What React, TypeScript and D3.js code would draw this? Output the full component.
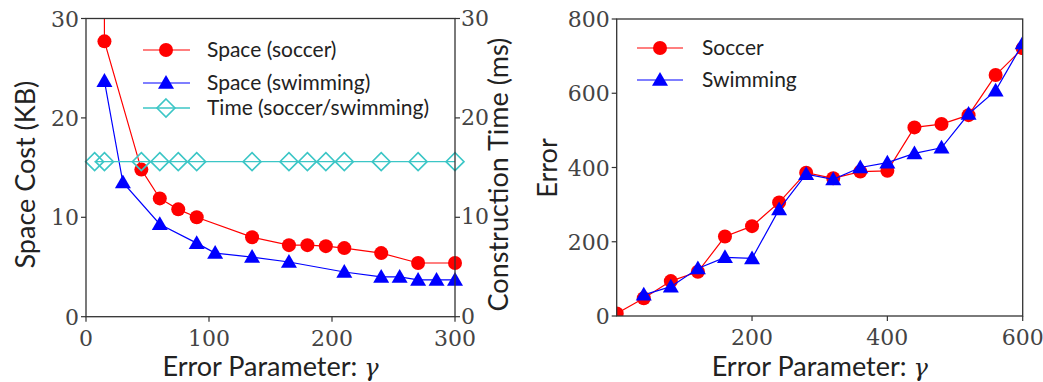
import React from "react";
import * as d3 from "d3";

// Left panel: space cost and construction time vs. error parameter
const spaceX = [14, 15, 45, 60, 75, 90, 135, 165, 180, 195, 210, 240, 270, 300];
const spaceSoccer = [100, 27.7, 14.8, 11.9, 10.8, 10.0, 8.0, 7.2, 7.2, 7.1, 6.9, 6.4, 5.4, 5.4];
const swimX = [15, 30, 60, 90, 105, 135, 165, 210, 240, 255, 270, 285, 300];
const spaceSwimming = [23.7, 13.5, 9.3, 7.4, 6.4, 6.0, 5.5, 4.5, 4.0, 4.0, 3.7, 3.7, 3.7];
const timeX = [7, 15, 45, 60, 75, 90, 135, 165, 180, 195, 210, 240, 270, 300];
const timeMs = [15.6, 15.6, 15.6, 15.6, 15.6, 15.6, 15.6, 15.6, 15.6, 15.6, 15.6, 15.6, 15.6, 15.6];
const leftXTicks = [0, 100, 200, 300];
const leftYTicks = [0, 10, 20, 30];

// Right panel: error vs. error parameter
const errX = [0, 40, 80, 120, 160, 200, 240, 280, 320, 360, 400, 440, 480, 520, 560, 600];
const errSoccer = [7, 48, 94, 119, 214, 242, 306, 386, 371, 389, 391, 508, 517, 541, 649, 721];
const errSwimX = [40, 80, 120, 160, 200, 240, 280, 320, 360, 400, 440, 480, 520, 560, 600];
const errSwimming = [57, 79, 128, 158, 155, 287, 382, 368, 400, 413, 438, 453, 544, 607, 734];
const rightXTicks = [200, 400, 600];
const rightYTicks = [0, 200, 400, 600, 800];

const RED = "#ff0000";
const BLUE = "#0000ff";
const TEAL = "#3cc6c6";
const SPINE = "#333";
const TICK_FONT = "DejaVu Serif, serif";
const TICK_SIZE = 22;
const LABEL_FONT = "Lato, DejaVu Sans, sans-serif";
const LABEL_SIZE = 27;
const LEGEND_SIZE = 21;

type Pt = [number, number];
const zip = (xs: number[], ys: number[]): Pt[] => xs.map((x, i) => [x, ys[i]]);

const Circle = ({ x, y, c }: { x: number; y: number; c: string }) => (
  <circle cx={x} cy={y} r={7} fill={c} />
);
const Tri = ({ x, y, c }: { x: number; y: number; c: string }) => {
  const s = 8;
  return (
    <path
      d={`M${x},${y - s}L${x + s},${y + s * 0.72}L${x - s},${y + s * 0.72}Z`}
      fill={c}
    />
  );
};
const Diamond = ({ x, y, c }: { x: number; y: number; c: string }) => {
  const s = 9;
  return (
    <path
      d={`M${x},${y - s}L${x + s},${y}L${x},${y + s}L${x - s},${y}Z`}
      fill="none"
      stroke={c}
      strokeWidth={1.6}
    />
  );
};

const XLabel = ({ cx }: { cx: number }) => (
  <text x={cx} y={376} textAnchor="middle" fontFamily={LABEL_FONT} fontSize={LABEL_SIZE} fill="#222">
    Error Parameter: <tspan fontFamily={TICK_FONT} fontStyle="italic" fontSize={24}>γ</tspan>
  </text>
);

function LeftPanel() {
  const x0 = 86, x1 = 455, y0 = 18.5, y1 = 316.7;
  const x = d3.scaleLinear().domain([0, 300]).range([x0, x1]);
  const y = d3.scaleLinear().domain([0, 30]).range([y1, y0]);
  const yR = d3.scaleLinear().domain([0, 30]).range([y1, y0]);
  const line = d3.line<Pt>().x((d) => x(d[0])).y((d) => y(d[1]));
  const lineR = d3.line<Pt>().x((d) => x(d[0])).y((d) => yR(d[1]));
  const soccer = zip(spaceX, spaceSoccer);
  const swim = zip(swimX, spaceSwimming);
  const time = zip(timeX, timeMs);
  return (
    <g>
      <defs>
        <clipPath id="clipL">
          <rect x={x0 - 15} y={y0} width={x1 - x0 + 30} height={y1 - y0 + 15} />
        </clipPath>
      </defs>
      <g clipPath="url(#clipL)">
        <path d={line(soccer) ?? ""} fill="none" stroke={RED} strokeWidth={1.2} />
        {soccer.filter((d) => d[1] <= 30).map((d, i) => (
          <Circle key={i} x={x(d[0])} y={y(d[1])} c={RED} />
        ))}
        <path d={line(swim) ?? ""} fill="none" stroke={BLUE} strokeWidth={1.2} />
        {swim.map((d, i) => (
          <Tri key={i} x={x(d[0])} y={y(d[1])} c={BLUE} />
        ))}
        <path d={lineR(time) ?? ""} fill="none" stroke={TEAL} strokeWidth={1.4} />
        {time.map((d, i) => (
          <Diamond key={i} x={x(d[0])} y={yR(d[1])} c={TEAL} />
        ))}
      </g>
      <rect x={x0} y={y0} width={x1 - x0} height={y1 - y0} fill="none" stroke={SPINE} strokeWidth={1.3} />
      {leftXTicks.map((t) => (
        <g key={t}>
          <line x1={x(t)} x2={x(t)} y1={y1} y2={y1 + 5} stroke={SPINE} strokeWidth={1.2} />
          <text x={x(t)} y={y1 + 29} textAnchor="middle" fontFamily={TICK_FONT} fontSize={TICK_SIZE} fill="#444">
            {t}
          </text>
        </g>
      ))}
      {leftYTicks.map((t) => (
        <g key={t}>
          <line x1={x0 - 5} x2={x0} y1={y(t)} y2={y(t)} stroke={SPINE} strokeWidth={1.2} />
          <text x={x0 - 7} y={y(t) + 8} textAnchor="end" fontFamily={TICK_FONT} fontSize={TICK_SIZE} fill="#444">
            {t}
          </text>
          <line x1={x1} x2={x1 + 5} y1={yR(t)} y2={yR(t)} stroke={SPINE} strokeWidth={1.2} />
          <text x={x1 + 6} y={yR(t) + 7} textAnchor="start" fontFamily={TICK_FONT} fontSize={TICK_SIZE} fill="#444">
            {t}
          </text>
        </g>
      ))}
      <XLabel cx={(x0 + x1) / 2} />
      <text
        transform={`translate(35,${(y0 + y1) / 2 + 7}) rotate(-90)`}
        textAnchor="middle"
        fontFamily={LABEL_FONT}
        fontSize={LABEL_SIZE}
        fill="#222"
      >
        Space Cost (KB)
      </text>
      <text
        transform={`translate(508,${(y0 + y1) / 2 + 7}) rotate(-90)`}
        textAnchor="middle"
        fontFamily={LABEL_FONT}
        fontSize={LABEL_SIZE}
        fill="#222"
      >
        Construction Time (ms)
      </text>
      {/* legend */}
      <g>
        <line x1={143} x2={190} y1={50} y2={50} stroke={RED} strokeWidth={1.2} />
        <Circle x={166} y={50} c={RED} />
        <text x={207} y={57} fontFamily={LABEL_FONT} fontSize={LEGEND_SIZE} fill="#222">Space (soccer)</text>
        <line x1={143} x2={190} y1={83} y2={83} stroke={BLUE} strokeWidth={1.2} />
        <Tri x={166} y={83} c={BLUE} />
        <text x={207} y={90} fontFamily={LABEL_FONT} fontSize={LEGEND_SIZE} fill="#222">Space (swimming)</text>
        <line x1={143} x2={190} y1={108} y2={108} stroke={TEAL} strokeWidth={1.4} />
        <Diamond x={166} y={108} c={TEAL} />
        <text x={207} y={115} fontFamily={LABEL_FONT} fontSize={LEGEND_SIZE} fill="#222">Time (soccer/swimming)</text>
      </g>
    </g>
  );
}

function RightPanel() {
  const x0 = 616.7, x1 = 1022.7, y0 = 19, y1 = 316;
  const x = d3.scaleLinear().domain([0, 600]).range([x0, x1]);
  const y = d3.scaleLinear().domain([0, 800]).range([y1, y0]);
  const line = d3.line<Pt>().x((d) => x(d[0])).y((d) => y(d[1]));
  const soccer = zip(errX, errSoccer);
  const swim = zip(errSwimX, errSwimming);
  return (
    <g>
      <defs>
        <clipPath id="clipR">
          <rect x={x0} y={y0} width={x1 - x0} height={y1 - y0} />
        </clipPath>
      </defs>
      <g clipPath="url(#clipR)">
        <path d={line(soccer) ?? ""} fill="none" stroke={RED} strokeWidth={1.2} />
        {soccer.map((d, i) => (
          <Circle key={i} x={x(d[0])} y={y(d[1])} c={RED} />
        ))}
        <path d={line(swim) ?? ""} fill="none" stroke={BLUE} strokeWidth={1.2} />
        {swim.map((d, i) => (
          <Tri key={i} x={x(d[0])} y={y(d[1])} c={BLUE} />
        ))}
      </g>
      <rect x={x0} y={y0} width={x1 - x0} height={y1 - y0} fill="none" stroke={SPINE} strokeWidth={1.3} />
      {rightXTicks.map((t) => (
        <g key={t}>
          <line x1={x(t)} x2={x(t)} y1={y1} y2={y1 + 5} stroke={SPINE} strokeWidth={1.2} />
          <text x={x(t)} y={y1 + 29} textAnchor="middle" fontFamily={TICK_FONT} fontSize={TICK_SIZE} fill="#444">
            {t}
          </text>
        </g>
      ))}
      {rightYTicks.map((t) => (
        <g key={t}>
          <line x1={x0 - 5} x2={x0} y1={y(t)} y2={y(t)} stroke={SPINE} strokeWidth={1.2} />
          <text x={x0 - 7} y={y(t) + 8} textAnchor="end" fontFamily={TICK_FONT} fontSize={TICK_SIZE} fill="#444">
            {t}
          </text>
        </g>
      ))}
      <XLabel cx={(x0 + x1) / 2} />
      <text
        transform={`translate(557,168) rotate(-90)`}
        textAnchor="middle"
        fontFamily={LABEL_FONT}
        fontSize={LABEL_SIZE}
        fill="#222"
      >
        Error
      </text>
      <g>
        <line x1={637} x2={683} y1={48} y2={48} stroke={RED} strokeWidth={1.2} />
        <Circle x={660} y={48} c={RED} />
        <text x={702} y={55} fontFamily={LABEL_FONT} fontSize={LEGEND_SIZE} fill="#222">Soccer</text>
        <line x1={637} x2={683} y1={80} y2={80} stroke={BLUE} strokeWidth={1.2} />
        <Tri x={660} y={80} c={BLUE} />
        <text x={702} y={87} fontFamily={LABEL_FONT} fontSize={LEGEND_SIZE} fill="#222">Swimming</text>
      </g>
    </g>
  );
}

export default function App() {
  return (
    <div style={{ position: "absolute", left: 0, top: 0 }}>
      <svg width={1043} height={382} style={{ display: "block", background: "#fff" }}>
        <LeftPanel />
        <RightPanel />
      </svg>
    </div>
  );
}
